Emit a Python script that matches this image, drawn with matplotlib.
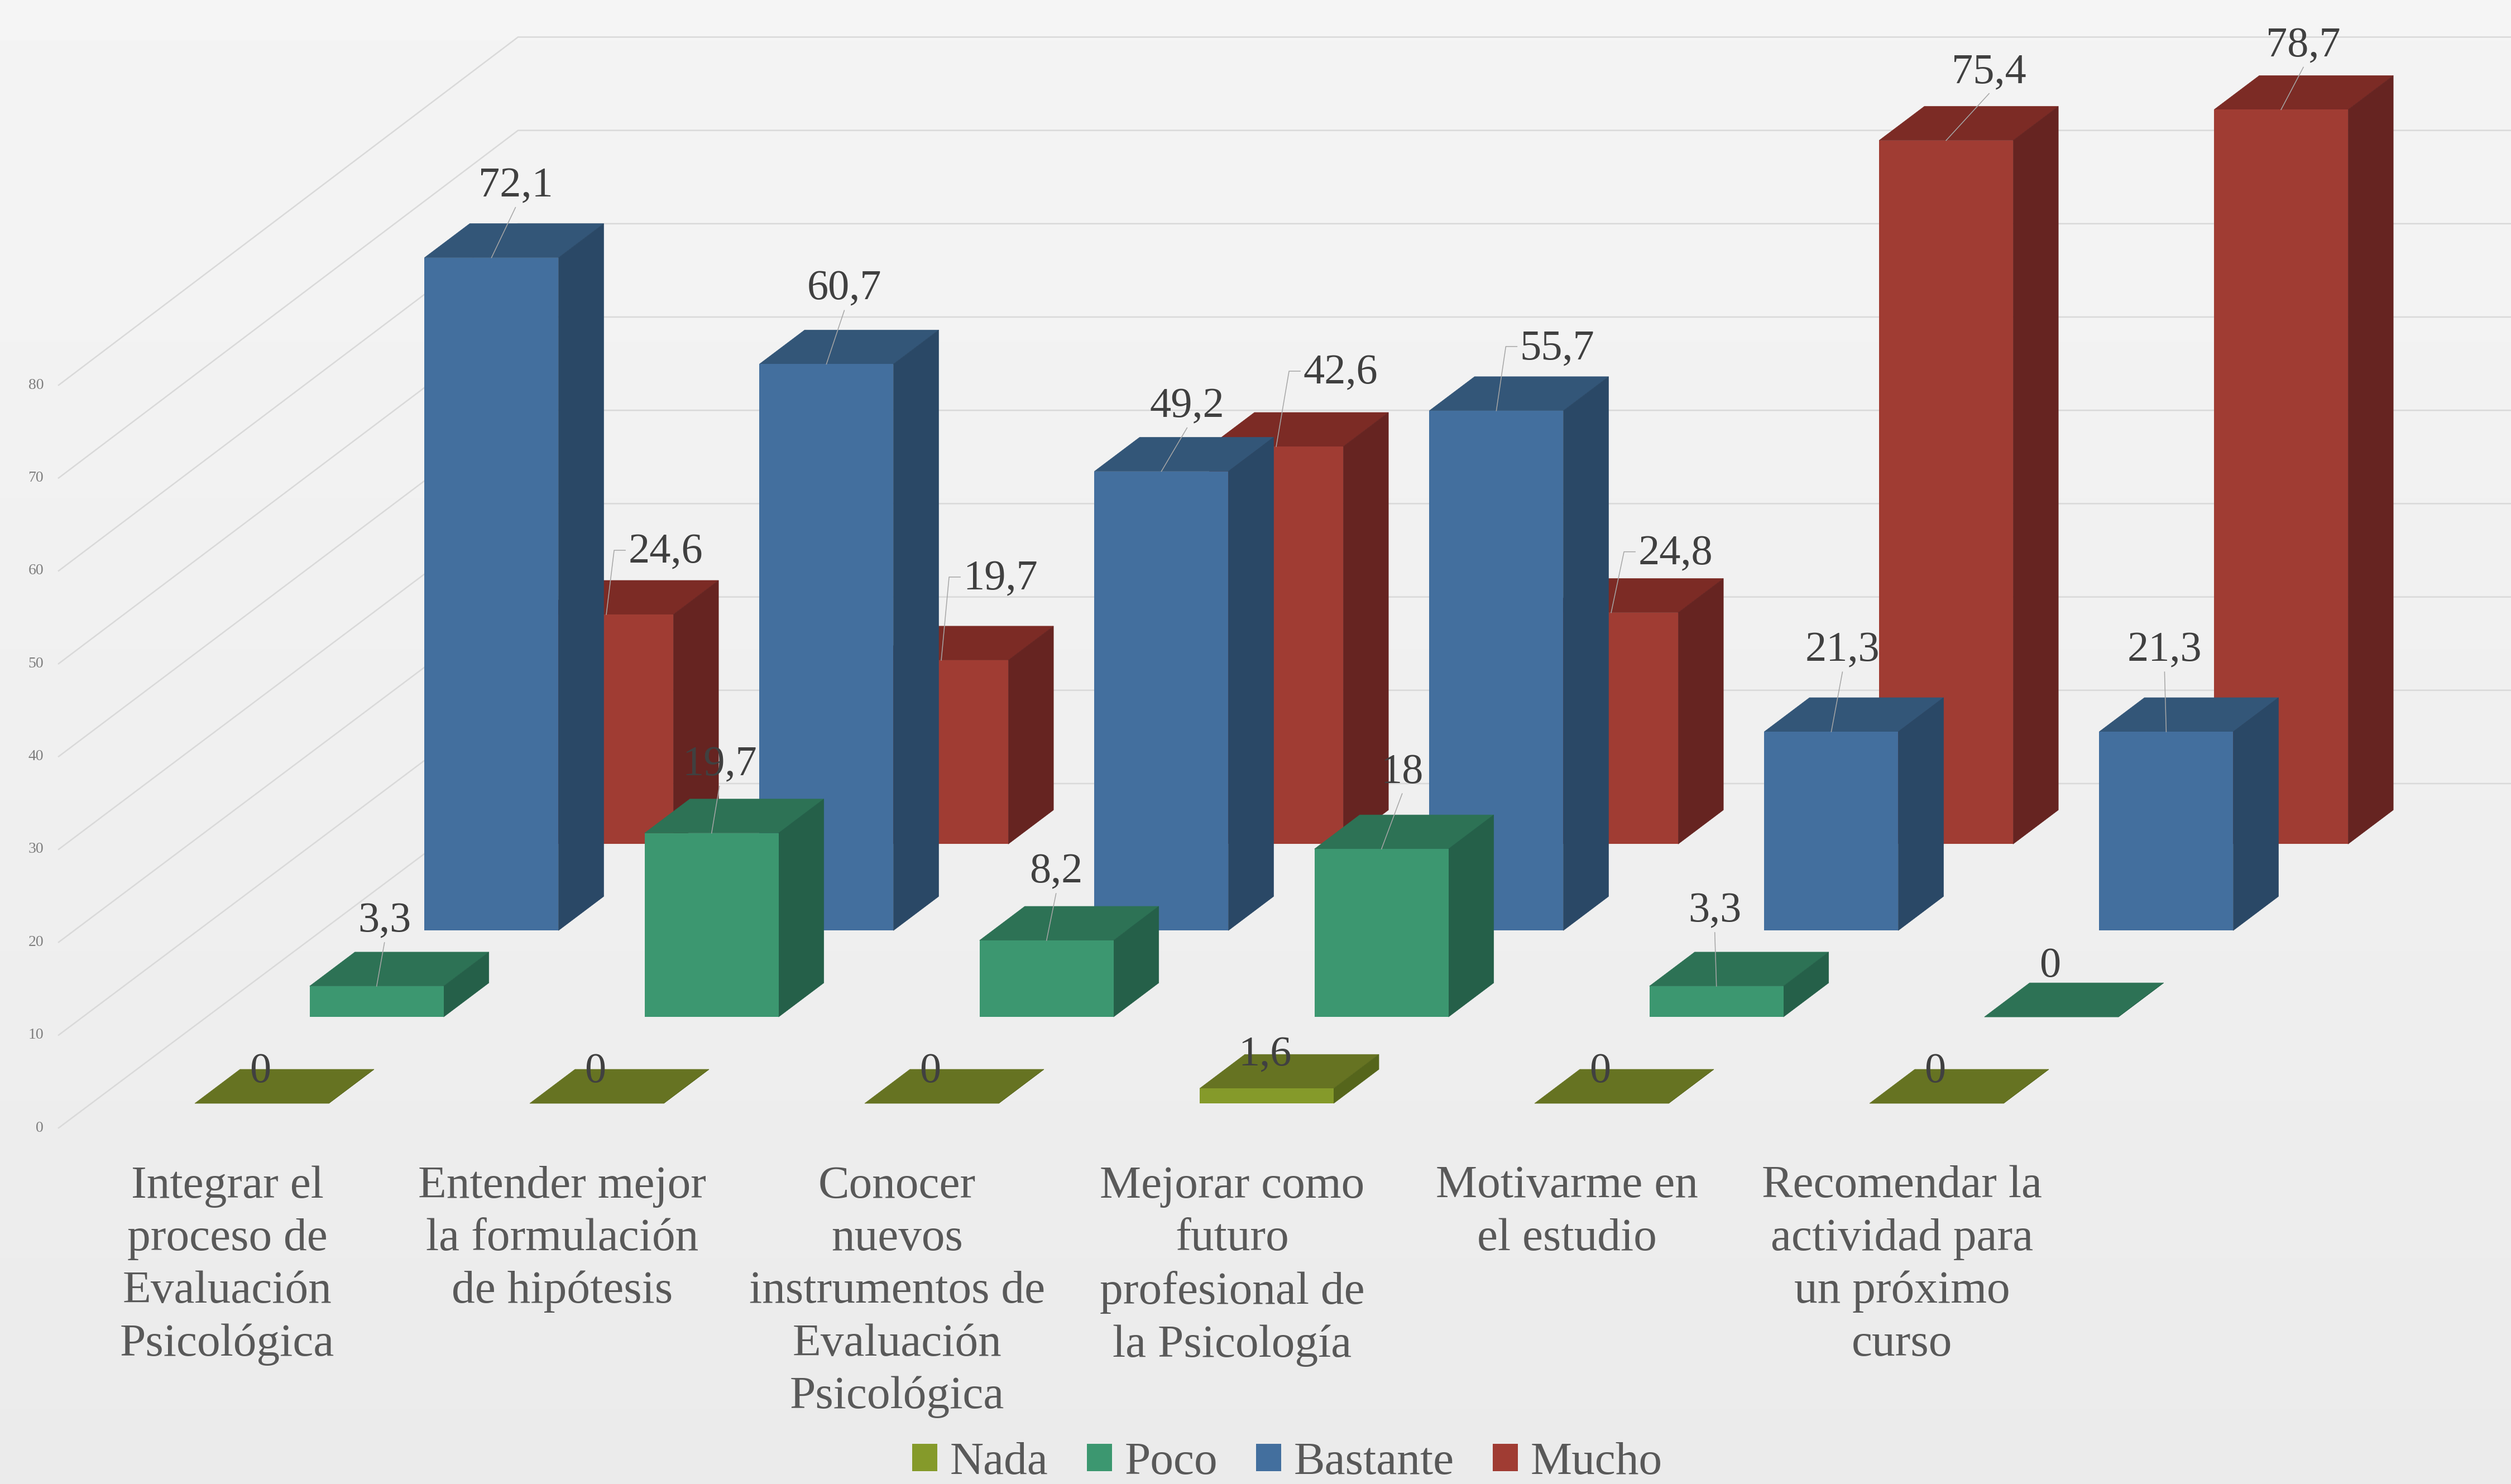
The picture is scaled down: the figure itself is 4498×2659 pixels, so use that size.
import numpy as np
import matplotlib
matplotlib.use("Agg")
import matplotlib.pyplot as plt
from matplotlib.patches import Patch

categories = ["Integrar el\nproceso de\nEvaluación\nPsicológica",
              "Entender mejor\nla formulación\nde hipótesis",
              "Conocer\nnuevos\ninstrumentos de\nEvaluación\nPsicológica",
              "Mejorar como\nfuturo\nprofesional de\nla Psicología",
              "Motivarme en\nel estudio",
              "Recomendar la\nactividad para\nun próximo\ncurso"]
series_names = ["Nada", "Poco", "Bastante", "Mucho"]
nada = [0, 0, 0, 1.6, 0, 0]
poco = [3.3, 19.7, 8.2, 18, 3.3, 0]
bastante = [72.1, 60.7, 49.2, 55.7, 21.3, 21.3]
mucho = [24.6, 19.7, 42.6, 24.8, 75.4, 78.7]
ticks = [0, 10, 20, 30, 40, 50, 60, 70, 80]

# front, top, side
colors = [("#859a2a", "#667322", "#55651b"),
          ("#3c9770", "#2d7255", "#256049"),
          ("#436f9e", "#335678", "#2a4866"),
          ("#a03c33", "#7c2b25", "#662421")]

# label offsets from the bar's front top centre, in pixels
nada_off = [(-3, 60), (-3, 60), (-3, 60), (-3, 63), (-3, 60), (-3, 60)]
poco_off = [(14, 120), (14, 126), (17, 126), (37, 141), (-3, 138), (-3, 95)]
bastante_off = [(43, 132), (32, 138), (46, 120), (109, 115), (20, 149), (-3, 149)]
mucho_off = [(106, 115), (106, 149), (115, 135), (115, 109), (77, 126), (40, 118)]

# pixels per unit on each axis
PX_X = 600.0
PX_Y = 16.72
W, H = 4498, 2659
ORIGIN_X, ORIGIN_Y = 349, 1977

bar_w = 240 / PX_X
depth_x = 81 / PX_X
depth_y = 61 / PX_Y
step_x = 205.7 / PX_X
step_y = 154.9 / PX_Y

fig = plt.figure(figsize=(W / 100, H / 100), dpi=100)
ax = fig.add_axes([0, 0, 1, 1])
ax.set_xlim(-ORIGIN_X / PX_X, (W - ORIGIN_X) / PX_X)
ax.set_ylim(-(H - ORIGIN_Y) / PX_Y, ORIGIN_Y / PX_Y)
ax.axis("off")

# paper background, slightly darker towards the bottom
bg = np.linspace(0.958, 0.92, 256).reshape(-1, 1)
ax.imshow(bg, extent=[ax.get_xlim()[0], ax.get_xlim()[1], ax.get_ylim()[0], ax.get_ylim()[1]],
          aspect="auto", cmap="gray", vmin=0, vmax=1, zorder=0)

serif = "Liberation Serif"

# gridlines: left wall then back wall
wall_x0 = (105 - ORIGIN_X) / PX_X
wall_x1 = (928 - ORIGIN_X) / PX_X
wall_y0 = (ORIGIN_Y - 2021) / PX_Y
wall_y1 = (ORIGIN_Y - 1404) / PX_Y
for t in ticks:
    ax.plot([wall_x0, wall_x1, ax.get_xlim()[1]],
            [wall_y0 + t * 0.995, wall_y1 + t, wall_y1 + t],
            color="#d9d9d9", lw=1.8, zorder=1, solid_joinstyle="miter")
    ax.text(wall_x0 - 27 / PX_X, wall_y0 + t * 0.995, str(t), family=serif, fontsize=20,
            color="#7f7f7f", ha="right", va="center", zorder=2)

all_series = [nada, poco, bastante, mucho]
all_off = [nada_off, poco_off, bastante_off, mucho_off]

# back series first so the front ones cover them
z = 3
for s in [3, 2, 1, 0]:
    front, top, side = colors[s]
    for i, v in enumerate(all_series[s]):
        x = i + s * step_x
        b = s * step_y
        ax.fill([x, x + bar_w, x + bar_w + depth_x, x + depth_x],
                [b + v, b + v, b + v + depth_y, b + v + depth_y],
                color=top, lw=0.5, zorder=z)
        ax.fill([x + bar_w, x + bar_w + depth_x, x + bar_w + depth_x, x + bar_w],
                [b, b + depth_y, b + v + depth_y, b + v],
                color=side, lw=0.5, zorder=z)
        ax.bar(x, v, width=bar_w, bottom=b, align="edge", color=front, lw=0, zorder=z)
        z += 1

# labels and leader lines on top of all bars
for s in range(4):
    for i, v in enumerate(all_series[s]):
        ax_x = i + s * step_x + bar_w / 2
        ax_y = s * step_y + v
        dx, dy = all_off[s][i]
        tx = ax_x + dx / PX_X
        ty = ax_y + dy / PX_Y
        if s > 0 and v > 0:
            if dx > 100:
                # label sits to the right: line with a small elbow
                ax.plot([ax_x, tx - 92 / PX_X, tx - 72 / PX_X], [ax_y, ty, ty],
                        color="#a6a6a6", lw=1.1, zorder=200)
            else:
                ax.plot([ax_x, tx], [ax_y, ty - 42 / PX_Y], color="#a6a6a6", lw=1.1, zorder=200)
        ax.text(tx, ty - 4 / PX_Y, str(v).replace(".", ","), family=serif, fontsize=55,
                color="#404040", ha="center", va="center", zorder=201)

for i, c in enumerate(categories):
    ax.text(i + (407 - ORIGIN_X) / PX_X, (ORIGIN_Y - 2088) / PX_Y, c, family=serif, fontsize=60,
            color="#595959", ha="center", va="top", linespacing=1.33, zorder=201)

handles = [Patch(facecolor=colors[s][0], label=series_names[s]) for s in range(4)]
ax.legend(handles=handles, ncol=4, loc="lower center", bbox_to_anchor=(2306 / W, 0.0),
          frameon=False, prop={"family": serif, "size": 60}, labelcolor="#595959",
          handlelength=0.54, handleheight=0.54, handletextpad=0.27, columnspacing=0.83,
          borderpad=0, borderaxespad=0)

fig.savefig("out.png", dpi=100)
